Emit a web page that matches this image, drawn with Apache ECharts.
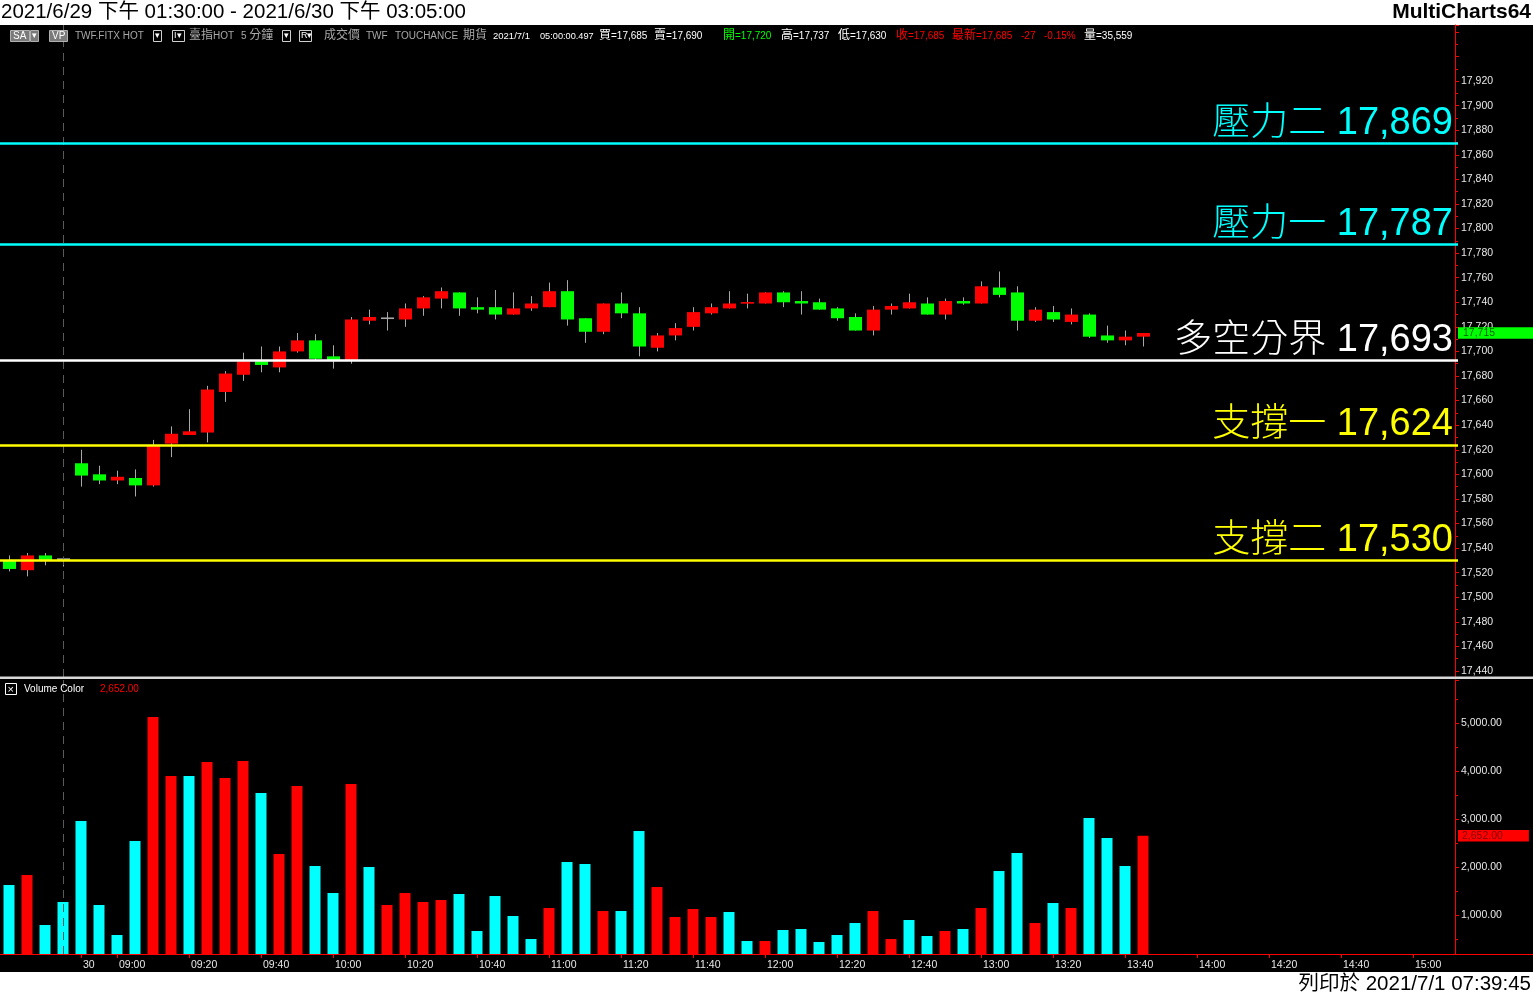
<!DOCTYPE html>
<html><head><meta charset="utf-8">
<script src="https://cdn.jsdelivr.net/npm/echarts@6/dist/echarts.min.js"></script>
<style>html,body{margin:0;padding:0;background:#fff}#c{width:1533px;height:995px}</style>
</head><body><div id="c"></div><script>
// ---------- data ----------
const categories = ['6/29 13:30','6/29 13:35','6/29 13:40','6/29 13:45',
 '08:50','08:55','09:00','09:05','09:10','09:15','09:20','09:25','09:30','09:35','09:40','09:45','09:50','09:55',
 '10:00','10:05','10:10','10:15','10:20','10:25','10:30','10:35','10:40','10:45','10:50','10:55',
 '11:00','11:05','11:10','11:15','11:20','11:25','11:30','11:35','11:40','11:45','11:50','11:55',
 '12:00','12:05','12:10','12:15','12:20','12:25','12:30','12:35','12:40','12:45','12:50','12:55',
 '13:00','13:05','13:10','13:15','13:20','13:25','13:30','13:35','13:40','13:45','13:50','13:55',
 '14:00','14:05','14:10','14:15','14:20','14:25','14:30','14:35','14:40','14:45','14:50','14:55',
 '15:00','15:05','15:10'];
const dateMarkIndex = 4;      // first bar of 6/30, labelled "30"
const dateMarkLabel = '30';
const sessionBreakIndex = 3;  // dashed separator

const opens  = [17530,17522,17534,17531,17609,17600,17595,17597,17591,17625,17632,17634,17667,17681,17692,17687,17700,17709,17696,17693,17725,17727,17726,17735,17743,17748,17736,17736,17730,17735,17736,17749,17727,17716,17739,17731,17703,17713,17720,17731,17735,17739,17739,17748,17741,17740,17735,17728,17717,17734,17735,17739,17730,17741,17739,17752,17748,17725,17732,17724,17730,17713,17709,17712];
const highs  = [17534,17536,17536,17533,17620,17607,17603,17604,17628,17639,17653,17672,17684,17699,17704,17704,17715,17714,17705,17728,17734,17732,17739,17745,17752,17748,17744,17750,17748,17745,17756,17758,17727,17739,17748,17736,17715,17723,17736,17739,17749,17747,17748,17749,17749,17743,17736,17731,17737,17739,17747,17744,17743,17744,17757,17765,17753,17736,17737,17735,17731,17721,17717,17715];
const lows   = [17521,17517,17526,17525,17590,17592,17592,17582,17590,17614,17632,17626,17659,17676,17683,17683,17699,17693,17686,17690,17722,17717,17720,17729,17735,17729,17731,17726,17730,17733,17736,17721,17707,17714,17727,17696,17700,17709,17717,17730,17735,17735,17739,17736,17730,17734,17725,17717,17713,17730,17735,17730,17726,17738,17739,17744,17717,17724,17724,17722,17711,17707,17705,17704];
const closes = [17523,17534,17530,17531,17599,17595,17598,17591,17623,17633,17635,17669,17682,17692,17689,17700,17709,17694,17693,17726,17728,17727,17735,17744,17749,17735,17734,17730,17735,17739,17749,17726,17716,17739,17731,17704,17713,17719,17732,17736,17739,17740,17748,17740,17739,17734,17727,17717,17734,17737,17740,17730,17741,17739,17753,17746,17725,17734,17726,17730,17712,17709,17712,17715];

const volumes  = [1625,1833,792,1271,2958,1208,583,2542,5125,3896,3896,4187,3854,4208,3542,2271,3687,2021,1458,3729,2000,1208,1458,1271,1312,1437,667,1396,979,500,1146,2104,2062,1083,1083,2750,1583,958,1125,958,1062,458,458,687,708,437,583,833,1083,500,896,562,667,708,1146,1917,2292,833,1250,1146,3021,2604,2021,2652];
const volumeUp = [0,1,0,0,0,0,0,0,1,1, 0,1,1,1,0,1,1,0,0,1, 0,1,1,1,1,0,0,0,0,0, 1,0,0,1,0,0,1,1,1,1, 0,0,1,0,0,0,0,0,1,1, 0,0,1,0,1,0,0,1,0,1, 0,0,0,1];

const levelNames  = ['壓力二','壓力一','多空分界','支撐一','支撐二'];
const levelValues = [17869,17787,17693,17624,17530];
const lastPrice  = 17715;
const lastVolume = 2652;

// ---------- styling helpers ----------
const FONT = "'Liberation Sans', Arial, 'Noto Sans CJK TC', sans-serif";
const levelColors = ['#00ffff','#00ffff','#ffffff','#ffff00','#ffff00'];
const fmt = v => v.toLocaleString('en-US');
const fmt2 = v => v.toLocaleString('en-US',{minimumFractionDigits:2,maximumFractionDigits:2});
const showLabel = (idx, val) => idx === dateMarkIndex || (idx > dateMarkIndex && /:(00|20|40)$/.test(val));

const candleData = opens.map((o, i) => [i, o, closes[i], lows[i], highs[i]]);
const volumeData = volumes.map((v, i) => ({ value: v, itemStyle: { color: volumeUp[i] ? '#ff0000' : '#00ffff' } }));

function renderCandle(params, api) {
  const i = api.value(0), o = api.value(1), c = api.value(2), l = api.value(3), h = api.value(4);
  const pO = api.coord([i, o]), pC = api.coord([i, c]), pL = api.coord([i, l]), pH = api.coord([i, h]);
  const cx = Math.round(pO[0]);
  const color = c > o ? '#ff0000' : (c < o ? '#00ff00' : '#a8a8a8');
  const raw = Math.abs(pO[1] - pC[1]);
  const hgt = Math.max(raw, 1.6);
  const top = Math.min(pO[1], pC[1]) - (hgt - raw) / 2;
  return { type: 'group', children: [
    { type: 'line', shape: { x1: cx + 0.5, y1: pH[1], x2: cx + 0.5, y2: pL[1] }, style: { stroke: '#a8a8a8', lineWidth: 1 } },
    { type: 'rect', shape: { x: cx - 6, y: top, width: 13, height: hgt }, style: { fill: color } }
  ]};
}

const levelMarks = levelValues.map((v, k) => ({
  yAxis: v,
  lineStyle: { color: levelColors[k], width: 2.5, type: 'solid' },
  label: { show: true, position: 'insideEndTop', formatter: levelNames[k] + ' ' + fmt(v),
           color: levelColors[k], fontSize: 38, fontFamily: FONT, fontWeight: 300, distance: [5, 1] }
}));

const headerItems = [
  [75,'TWF.FITX HOT','#a8a8a8',10], [189,'臺指HOT','#a8a8a8',10], [241,'5 分鐘','#a8a8a8',10],
  [324,'成交價','#a8a8a8',10], [366,'TWF','#a8a8a8',10], [395,'TOUCHANCE','#a8a8a8',10], [463,'期貨','#a8a8a8',10],
  [493,'2021/7/1','#ffffff',9.5], [540,'05:00:00.497','#ffffff',9.2], [599,'買=17,685','#ffffff',10], [654,'賣=17,690','#ffffff',10],
  [723,'開=17,720','#00ff00',10], [781,'高=17,737','#ffffff',10], [838,'低=17,630','#ffffff',10],
  [896,'收=17,685','#ff0000',10], [952,'最新=17,685','#ff0000',10], [1021,'-27','#ff0000',10],
  [1044,'-0.15%','#ff0000',10], [1084,'量=35,559','#ffffff',10]
];
const txt = (x, y, text, fill, size, extra) => Object.assign({
  type: 'text', x: x, y: y, silent: true, z: 50,
  style: Object.assign({ text: text, fill: fill, font: size + 'px ' + FONT, verticalAlign: 'middle', textVerticalAlign: 'middle' }, extra || {})
});
const headerTxt = (x, text, fill, size) => {
  const rich = text.replace(/([\u3400-\u9fff]+)/g, '{c|$1}');
  return txt(x, 36, rich, fill, size, { rich: { c: { fill: fill, font: '12px ' + FONT } } });
};
const box = (x, y, w, h, fill, stroke) => ({ type: 'rect', silent: true, z: 49, shape: { x: x, y: y, width: w, height: h }, style: { fill: fill, stroke: stroke, lineWidth: 1 } });

const graphics = [
  { type: 'rect', silent: true, z: -100, shape: { x: 0, y: 25, width: 1533, height: 947 }, style: { fill: '#000000' } },
  { type: 'rect', silent: true, z: 60, shape: { x: 0, y: 676.5, width: 1533, height: 2.5 }, style: { fill: '#d8d8d8' } },
  { type: 'line', silent: true, z: 60, shape: { x1: 1455, y1: 954.5, x2: 1533, y2: 954.5 }, style: { stroke: '#ff0000', lineWidth: 1 } },
  txt(1, 12.5, '2021/6/29 下午 01:30:00 - 2021/6/30 下午 03:05:00', '#000000', 20.5),
  txt(1531, 12.5, 'MultiCharts64', '#000000', 21, { font: 'bold 21px ' + FONT, align: 'right', textAlign: 'right' }),
  txt(1531, 984, '列印於 2021/7/1 07:39:45', '#000000', 20.5, { align: 'right', textAlign: 'right' }),
  box(10.5, 30.5, 19, 11, '#7a7a7a', '#b0b0b0'), txt(13, 36, 'SA', '#ffffff', 10),
  box(30.5, 30.5, 8, 11, '#7a7a7a', '#b0b0b0'), txt(31.5, 36, '▾', '#ffffff', 9),
  box(49.5, 30.5, 18, 11, '#7a7a7a', '#b0b0b0'), txt(52, 36, 'VP', '#ffffff', 10),
  box(153.5, 30.5, 8, 11, '#000000', '#d0d0d0'), txt(154.5, 36, '▾', '#ffffff', 9),
  box(172.5, 30.5, 12, 11, '#000000', '#d0d0d0'), txt(174, 36, 'I▾', '#ffffff', 9),
  box(282.5, 30.5, 8, 11, '#000000', '#d0d0d0'), txt(283.5, 36, '▾', '#ffffff', 9),
  box(299.5, 30.5, 12, 11, '#000000', '#d0d0d0'), txt(301, 36, 'R▾', '#ffffff', 9),
  box(5.5, 683.5, 11, 11, '#000000', '#ffffff'), txt(7.5, 689.5, '×', '#ffffff', 11),
  txt(24, 689.5, 'Volume Color', '#ffffff', 10),
  txt(100, 689.5, fmt2(lastVolume), '#ff0000', 10)
].concat(headerItems.map(h => headerTxt(h[0], h[1], h[2], h[3])));

const chart = echarts.init(document.getElementById('c'), null, { renderer: 'canvas' });
chart.setOption({
  animation: false,
  backgroundColor: '#ffffff',
  textStyle: { fontFamily: FONT },
  graphic: graphics,
  grid: [
    { left: 0, top: 25, width: 1458, height: 652 },
    { left: 0, top: 680, width: 1458, height: 274 }
  ],
  xAxis: [
    { type: 'category', gridIndex: 0, data: categories, boundaryGap: true, show: false },
    { type: 'category', gridIndex: 1, data: categories, boundaryGap: true,
      axisLine: { show: true, lineStyle: { color: '#ff0000', width: 1 } },
      axisTick: { show: true, alignWithLabel: true, interval: showLabel, length: 4, lineStyle: { color: '#ff0000' } },
      axisLabel: { interval: showLabel, formatter: (v, i) => i === dateMarkIndex ? dateMarkLabel : v,
                   color: '#e8e8e8', fontSize: 10.5, fontFamily: FONT, align: 'left', margin: 6, padding: [0, 0, 0, 2] },
      splitLine: { show: false } }
  ],
  yAxis: [
    { type: 'value', gridIndex: 0, position: 'right', offset: -3, min: 17435.1, max: 17965.6, minInterval: 20, maxInterval: 20,
      axisLine: { show: true, lineStyle: { color: '#ff0000', width: 1 } },
      axisTick: { show: true, length: 4, lineStyle: { color: '#ff0000' } },
      minorTick: { show: true, splitNumber: 2, length: 3, lineStyle: { color: '#ff0000' } },
      axisLabel: { color: '#e8e8e8', fontSize: 10.5, fontFamily: FONT, margin: 6, showMinLabel: false, showMaxLabel: false,
                   formatter: v => v > 17925 ? '' : fmt(v) },
      splitLine: { show: false } },
    { type: 'value', gridIndex: 1, position: 'right', offset: -3, min: 187.5, max: 5895.8, minInterval: 1000, maxInterval: 1000,
      axisLine: { show: true, lineStyle: { color: '#ff0000', width: 1 } },
      axisTick: { show: true, length: 4, lineStyle: { color: '#ff0000' } },
      minorTick: { show: true, splitNumber: 2, length: 3, lineStyle: { color: '#ff0000' } },
      axisLabel: { color: '#e8e8e8', fontSize: 10.5, fontFamily: FONT, margin: 6, showMinLabel: false, showMaxLabel: false,
                   formatter: v => fmt2(v) },
      splitLine: { show: false } }
  ],
  series: [
    { type: 'line', xAxisIndex: 0, yAxisIndex: 0, data: [], silent: true, z: 1,
      markLine: { silent: true, symbol: ['none', 'none'], animation: false,
        data: [ { xAxis: sessionBreakIndex, lineStyle: { color: '#5a5a5a', width: 1, type: [8, 6] }, label: { show: false } } ] } },
    { type: 'custom', name: 'price', xAxisIndex: 0, yAxisIndex: 0, data: candleData, renderItem: renderCandle,
      encode: { x: 0, y: [1, 2, 3, 4] }, silent: true, z: 3 },
    { type: 'line', xAxisIndex: 0, yAxisIndex: 0, data: [], silent: true, z: 5,
      markLine: { silent: true, symbol: ['none', 'none'], animation: false,
        data: levelMarks.concat([{ yAxis: lastPrice, lineStyle: { color: 'rgba(0,0,0,0)', width: 0 },
          label: { show: true, position: 'end', distance: 0, formatter: fmt(lastPrice), color: '#006400', backgroundColor: '#00ff00',
                   fontSize: 10.5, fontFamily: FONT, padding: [1, 38, 0, 5] } }]) } },
    { type: 'bar', name: 'volume', xAxisIndex: 1, yAxisIndex: 1, data: volumeData, barWidth: 11, silent: true, z: 3,
      markLine: { silent: true, symbol: ['none', 'none'], animation: false,
        data: [ { xAxis: sessionBreakIndex, lineStyle: { color: '#5a5a5a', width: 1, type: [8, 6] }, label: { show: false } },
                { yAxis: lastVolume, lineStyle: { color: 'rgba(0,0,0,0)', width: 0 },
                  label: { show: true, position: 'end', distance: 0, formatter: fmt2(lastVolume), color: '#800000', backgroundColor: '#ff0000',
                           fontSize: 10.5, fontFamily: FONT, padding: [1, 26, 0, 4] } } ] } }
  ]
});
</script></body></html>
